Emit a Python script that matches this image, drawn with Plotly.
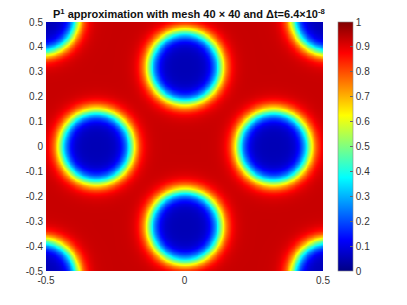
import numpy as np
import plotly.graph_objects as go

# Blob (low-value region) centres
blob_x = [0.0, 0.0, -0.32, 0.32, -0.518, 0.518, -0.518, 0.518]
blob_y = [0.32, -0.32, 0.0, 0.0, 0.52, 0.52, -0.52, -0.52]
inner_value = 0.05   # value at blob centre
outer_value = 0.93   # background value
semi_x = 0.128       # half-level semi-axis in x
semi_y = 0.143       # half-level semi-axis in y
edge_width = 0.26    # relative transition width

x_ticks = [-0.5, 0, 0.5]
y_ticks = [-0.5, -0.4, -0.3, -0.2, -0.1, 0, 0.1, 0.2, 0.3, 0.4, 0.5]
cbar_ticks = [0, 0.1, 0.2, 0.3, 0.4, 0.5, 0.6, 0.7, 0.8, 0.9, 1]

grid = np.linspace(-0.5, 0.5, 161)
X, Y = np.meshgrid(grid, grid)
frac = np.ones_like(X)
for cx, cy in zip(blob_x, blob_y):
    rho = np.sqrt(((X - cx) / semi_x) ** 2 + ((Y - cy) / semi_y) ** 2)
    frac *= 0.5 * (1 + np.tanh((rho - 1) / edge_width))
Z = inner_value + (outer_value - inner_value) * frac

jet = [
    [0.0, "rgb(0,0,132)"],
    [0.125, "rgb(0,0,255)"],
    [0.375, "rgb(0,255,255)"],
    [0.625, "rgb(255,255,0)"],
    [0.875, "rgb(255,0,0)"],
    [1.0, "rgb(128,0,0)"],
]

fig = go.Figure(go.Heatmap(
    x=grid, y=grid, z=Z, zmin=0, zmax=1, zsmooth="best",
    colorscale=jet,
    colorbar=dict(
        x=1.054, xanchor="left", xref="paper", y=0.5, yanchor="middle", len=1,
        xpad=0, ypad=0,
        thickness=15, outlinewidth=0.6, outlinecolor="#888",
        tickvals=cbar_ticks, ticktext=[f"{v:g}" for v in cbar_ticks],
        ticks="inside", ticklen=3, tickcolor="#666",
        tickfont=dict(family="Liberation Sans, Arial", size=10, color="#333"),
    ),
))

# page body has an 8px margin, so the figure is sized/offset to compensate
fig.update_layout(
    width=399, height=297,
    margin=dict(l=38, r=84, t=14, b=34, autoexpand=False),
    paper_bgcolor="white", plot_bgcolor="white",
    title=dict(
        text="<b>P<sup>1</sup> approximation with mesh 40 × 40 and Δt=6.4×10<sup>-8</sup></b>",
        x=0.516, xanchor="center", xref="paper",
        y=1 - 6.5 / 297, yanchor="middle", yref="container",
        font=dict(family="Liberation Sans, Arial", size=11, color="#111"),
    ),
    font=dict(family="Liberation Sans, Arial", size=10, color="#333"),
)
fig.update_xaxes(range=[-0.5, 0.5], tickvals=x_ticks, ticktext=["-0.5", "0", "0.5"],
                 showgrid=False, zeroline=False, ticks="", showline=False,
                 automargin=False, ticklabelstandoff=2)
fig.update_yaxes(range=[-0.5, 0.5], tickvals=y_ticks, ticktext=[f"{v:g}" for v in y_ticks],
                 showgrid=False, zeroline=False, ticks="", showline=False,
                 automargin=False, ticklabelstandoff=2)

fig.write_html("out.html")
